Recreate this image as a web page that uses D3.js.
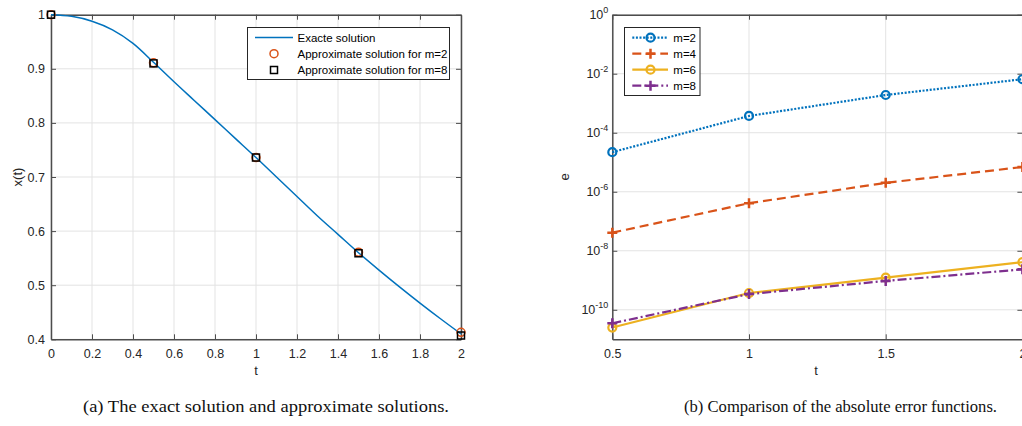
<!DOCTYPE html>
<html>
<head>
<meta charset="utf-8">
<script src="https://cdn.jsdelivr.net/npm/d3@7"></script>
<style>
  body { margin: 0; background: #fff; }
  svg { display: block; }
</style>
</head>
<body>
<div id="chart"></div>
<script>
// ---- data ----
const tExact = [0, 0.1, 0.2, 0.3, 0.4, 0.5, 0.6, 0.7, 0.8, 0.9, 1.0, 1.1, 1.2, 1.3, 1.4, 1.5, 1.6, 1.7, 1.8, 1.9, 2.0]
const xExact = [1.0, 0.997, 0.988, 0.972, 0.947, 0.912, 0.876, 0.841, 0.806, 0.771, 0.736, 0.700, 0.664, 0.628, 0.594, 0.560, 0.528, 0.497, 0.467, 0.438, 0.410]
const tApprox = [0, 0.5, 1, 1.5, 2]
const xApproxM2 = [1.0, 0.911, 0.736, 0.561, 0.413]
const xApproxM8 = [1.0, 0.910, 0.736, 0.559, 0.407]
const leftXTicks = [0, 0.2, 0.4, 0.6, 0.8, 1, 1.2, 1.4, 1.6, 1.8, 2]
const leftYTicks = [0.4, 0.5, 0.6, 0.7, 0.8, 0.9, 1]
const leftLegend = ['Exacte solution', 'Approximate solution for m=2', 'Approximate solution for m=8']

const tErr = [0.5, 1, 1.5, 2]
const errM2 = [2.2e-5, 3.7e-4, 1.9e-3, 6.5e-3]
const errM4 = [4.1e-8, 4.1e-7, 2.0e-6, 6.9e-6]
const errM6 = [2.5e-11, 3.7e-10, 1.23e-9, 4.1e-9]
const errM8 = [3.5e-11, 3.4e-10, 9.5e-10, 2.35e-9]
const rightXTicks = [0.5, 1, 1.5, 2]
const rightYExponents = [0, -2, -4, -6, -8, -10]
const rightLegend = ['m=2', 'm=4', 'm=6', 'm=8']

const captions = ['(a) The exact solution and approximate solutions.', '(b) Comparison of the absolute error functions.']

// ---- drawing ----
const width = 1022
const height = 426
const axisColor = '#4d4d4d'
const textColor = '#262626'
const gridColor = '#e3e3e3'
const tickFont = 'Liberation Sans, Arial, sans-serif'
const tickSize = 12.5

const svg = d3.select('#chart')
  .append('svg')
  .attr('width', width)
  .attr('height', height)

svg.append('rect').attr('width', width).attr('height', height).attr('fill', '#fff')

function drawFrame(g, xScale, yScale, xTicks, yTicks, xFormat, yFormat, yPad) {
  const [x0, x1] = xScale.range()
  const [y0, y1] = yScale.range()

  // grid
  g.append('g').selectAll('line').data(xTicks).join('line')
    .attr('x1', d => xScale(d)).attr('x2', d => xScale(d))
    .attr('y1', y1).attr('y2', y0)
    .attr('stroke', gridColor).attr('stroke-width', 1)
  g.append('g').selectAll('line').data(yTicks).join('line')
    .attr('x1', x0).attr('x2', x1)
    .attr('y1', d => yScale(d)).attr('y2', d => yScale(d))
    .attr('stroke', gridColor).attr('stroke-width', 1)

  const styleAxis = sel => {
    sel.select('.domain').attr('stroke', axisColor).attr('stroke-width', 1.5)
    sel.selectAll('.tick line').attr('stroke', axisColor).attr('stroke-width', 1)
    sel.selectAll('.tick text').attr('fill', textColor)
      .attr('font-family', tickFont).attr('font-size', tickSize)
  }

  const bottom = g.append('g')
    .attr('transform', `translate(0,${y0})`)
    .call(d3.axisBottom(xScale).tickValues(xTicks).tickFormat(xFormat)
      .tickSizeInner(-5).tickSizeOuter(0).tickPadding(10))
  styleAxis(bottom)

  const top = g.append('g')
    .attr('transform', `translate(0,${y1})`)
    .call(d3.axisTop(xScale).tickValues(xTicks).tickFormat('')
      .tickSizeInner(-5).tickSizeOuter(0))
  styleAxis(top)

  const left = g.append('g')
    .attr('transform', `translate(${x0},0)`)
    .call(d3.axisLeft(yScale).tickValues(yTicks).tickFormat(yFormat)
      .tickSizeInner(-5).tickSizeOuter(0).tickPadding(yPad))
  styleAxis(left)

  const right = g.append('g')
    .attr('transform', `translate(${x1},0)`)
    .call(d3.axisRight(yScale).tickValues(yTicks).tickFormat('')
      .tickSizeInner(-5).tickSizeOuter(0))
  styleAxis(right)

  return left
}

// ---------- (a) ----------
const gA = svg.append('g')
const xA = d3.scaleLinear().domain([0, 2]).range([51, 461])
const yA = d3.scaleLinear().domain([0.4, 1]).range([339.3, 14.7])

drawFrame(gA, xA, yA, leftXTicks, leftYTicks, d3.format('~g'), d3.format('~g'), 6)

const exactPts = tExact.map((t, i) => [t, xExact[i]])
gA.append('path')
  .datum(exactPts)
  .attr('fill', 'none')
  .attr('stroke', '#0072BD')
  .attr('stroke-width', 1.5)
  .attr('d', d3.line().curve(d3.curveCatmullRom).x(d => xA(d[0])).y(d => yA(d[1])))

gA.append('g').selectAll('circle')
  .data(tApprox.map((t, i) => [t, xApproxM2[i]]))
  .join('circle')
  .attr('cx', d => xA(d[0])).attr('cy', d => yA(d[1]))
  .attr('r', 4)
  .attr('fill', 'none').attr('stroke', '#D95319').attr('stroke-width', 1.5)

gA.append('g').selectAll('rect')
  .data(tApprox.map((t, i) => [t, xApproxM8[i]]))
  .join('rect')
  .attr('x', d => xA(d[0]) - 3.5).attr('y', d => yA(d[1]) - 3.5)
  .attr('width', 7).attr('height', 7)
  .attr('fill', 'none').attr('stroke', '#000').attr('stroke-width', 1.5)

// legend (a)
const legA = gA.append('g')
legA.append('rect')
  .attr('x', 247.5).attr('y', 27.5).attr('width', 202).attr('height', 52)
  .attr('fill', '#fff').attr('stroke', '#262626').attr('stroke-width', 1)
const legARows = [37.5, 53.7, 70]
legA.append('line')
  .attr('x1', 255).attr('x2', 293).attr('y1', legARows[0]).attr('y2', legARows[0])
  .attr('stroke', '#0072BD').attr('stroke-width', 1.5)
legA.append('circle')
  .attr('cx', 274).attr('cy', legARows[1]).attr('r', 4)
  .attr('fill', 'none').attr('stroke', '#D95319').attr('stroke-width', 1.5)
legA.append('rect')
  .attr('x', 270.5).attr('y', legARows[2] - 3.5).attr('width', 7).attr('height', 7)
  .attr('fill', 'none').attr('stroke', '#000').attr('stroke-width', 1.5)
legA.selectAll('text').data(leftLegend).join('text')
  .attr('x', 297.5).attr('y', (d, i) => legARows[i])
  .attr('dy', '0.35em')
  .attr('font-family', tickFont).attr('font-size', 11.5)
  .attr('fill', '#000')
  .text(d => d)

gA.append('text')
  .attr('x', xA(1)).attr('y', 375)
  .attr('text-anchor', 'middle')
  .attr('font-family', tickFont).attr('font-size', 13).attr('fill', textColor)
  .text('t')
gA.append('text')
  .attr('transform', `translate(22,${yA(0.7)}) rotate(-90)`)
  .attr('text-anchor', 'middle')
  .attr('font-family', tickFont).attr('font-size', 13).attr('fill', textColor)
  .text('x(t)')

// ---------- (b) ----------
const gB = svg.append('g')
const xB = d3.scaleLinear().domain([0.5, 2]).range([612.3, 1022.4])
const yB = d3.scaleLog().domain([1e-11, 1]).range([339.3, 14.7])
const yTickValues = rightYExponents.map(e => Math.pow(10, e))

const leftB = drawFrame(gB, xB, yB, rightXTicks, yTickValues, d3.format('~g'), () => '', 4)
leftB.selectAll('.tick text').each(function (d) {
  const txt = d3.select(this)
  txt.append('tspan').text('10')
  txt.append('tspan')
    .attr('dy', -6)
    .attr('font-size', 9)
    .text(String(Math.round(Math.log10(d))))
})

const series = [
  { name: rightLegend[0], values: errM2, color: '#0072BD', dash: '2,1.6', marker: 'circle' },
  { name: rightLegend[1], values: errM4, color: '#D95319', dash: '9,5', marker: 'plus' },
  { name: rightLegend[2], values: errM6, color: '#EDB120', dash: null, marker: 'circle' },
  { name: rightLegend[3], values: errM8, color: '#7E2F8E', dash: '9,3,2,3', marker: 'plus' },
]

function drawMarker(g, type, cx, cy, color) {
  if (type === 'circle') {
    g.append('circle')
      .attr('cx', cx).attr('cy', cy).attr('r', 4)
      .attr('fill', 'none').attr('stroke', color).attr('stroke-width', 2.2)
  } else {
    g.append('path')
      .attr('d', `M${cx - 5},${cy}H${cx + 5}M${cx},${cy - 5}V${cy + 5}`)
      .attr('stroke', color).attr('stroke-width', 2.5)
  }
}

const errLine = d3.line().x(d => xB(d[0])).y(d => yB(d[1]))

series.forEach(s => {
  const pts = tErr.map((t, i) => [t, s.values[i]])
  gB.append('path')
    .datum(pts)
    .attr('fill', 'none')
    .attr('stroke', s.color)
    .attr('stroke-width', 2.2)
    .attr('stroke-dasharray', s.dash)
    .attr('d', errLine)
  const mg = gB.append('g')
  pts.forEach(p => drawMarker(mg, s.marker, xB(p[0]), yB(p[1]), s.color))
})

// legend (b)
const legB = gB.append('g')
legB.append('rect')
  .attr('x', 624.5).attr('y', 27.5).attr('width', 75.5).attr('height', 68)
  .attr('fill', '#fff').attr('stroke', '#262626').attr('stroke-width', 1)
const legBRows = [37.7, 53.7, 69.7, 85.7]
series.forEach((s, i) => {
  legB.append('line')
    .attr('x1', 632.3).attr('x2', 668).attr('y1', legBRows[i]).attr('y2', legBRows[i])
    .attr('stroke', s.color).attr('stroke-width', 2.2)
    .attr('stroke-dasharray', s.dash)
  drawMarker(legB, s.marker, 650.5, legBRows[i], s.color)
  legB.append('text')
    .attr('x', 673.3).attr('y', legBRows[i]).attr('dy', '0.35em')
    .attr('font-family', tickFont).attr('font-size', 11.5).attr('fill', '#000')
    .text(s.name)
})

gB.append('text')
  .attr('x', 816).attr('y', 375)
  .attr('text-anchor', 'middle')
  .attr('font-family', tickFont).attr('font-size', 13).attr('fill', textColor)
  .text('t')
gB.append('text')
  .attr('transform', `translate(569,${(14.7 + 339.3) / 2}) rotate(-90)`)
  .attr('text-anchor', 'middle')
  .attr('font-family', tickFont).attr('font-size', 13).attr('fill', textColor)
  .text('e')

// captions
const captionX = [83, 684]
const captionW = [366, 313]
svg.selectAll('text.caption').data(captions).join('text')
  .attr('class', 'caption')
  .attr('x', (d, i) => captionX[i])
  .attr('y', 412)
  .attr('textLength', (d, i) => captionW[i])
  .attr('lengthAdjust', 'spacingAndGlyphs')
  .attr('font-family', 'Liberation Serif, Times New Roman, serif')
  .attr('font-size', 16)
  .attr('fill', '#111')
  .text(d => d)
</script>
</body>
</html>
